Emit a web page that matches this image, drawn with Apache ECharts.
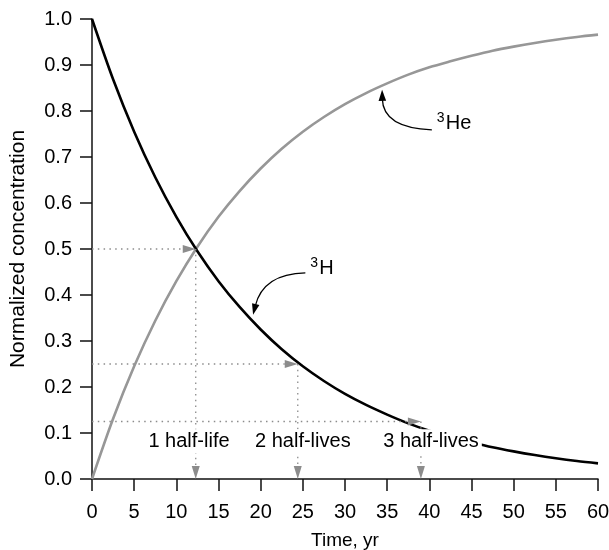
<!DOCTYPE html>
<html>
<head>
<meta charset="utf-8">
<script src="https://cdn.jsdelivr.net/npm/echarts@6/dist/echarts.min.js"></script>
<style>
html, body { margin: 0; padding: 0; background: #fff; }
#chart { width: 609px; height: 550px; }
</style>
</head>
<body>
<div id="chart"></div>
<script>
// Time axis samples (years)
const years = [0, 2.5, 5, 7.5, 10, 12.5, 15, 17.5, 20, 22.5, 25, 27.5, 30,
               32.5, 35, 37.5, 40, 42.5, 45, 47.5, 50, 52.5, 55, 57.5, 60];

// Normalized tritium (3H) remaining
const tritium = [1.000, 0.869, 0.755, 0.656, 0.570, 0.495, 0.430, 0.374, 0.325,
                 0.282, 0.245, 0.213, 0.185, 0.161, 0.140, 0.121, 0.105, 0.092,
                 0.080, 0.069, 0.060, 0.052, 0.045, 0.039, 0.034];

// Normalized tritiogenic helium (3He) grown in
const helium3 = [0.000, 0.131, 0.245, 0.344, 0.430, 0.505, 0.570, 0.626, 0.675,
                 0.718, 0.755, 0.787, 0.815, 0.839, 0.860, 0.879, 0.895, 0.908,
                 0.920, 0.931, 0.940, 0.948, 0.955, 0.961, 0.966];

// Half-life guide markers
const halfLifeYears = [12.3, 24.4, 39.0];
const halfLifeLevels = [0.5, 0.25, 0.125];
const halfLifeLabels = ['1 half-life', '2 half-lives', '3 half-lives'];
const halfLifeLabelYears = [11.5, 25.0, 40.2];
const halfLifeLabelLevel = 0.082;

// Curve tags: label text, arrow start, bend point and tip (data coordinates)
const tagNames = ['H', 'He'];
const tagStarts = [[25.3, 0.448], [40.3, 0.759]];
const tagBends = [[20.3, 0.446], [34.5, 0.763]];
const tagTips = [[19.1, 0.357], [34.4, 0.846]];

const FONT = '"Liberation Sans", Arial, Helvetica, sans-serif';
const GUIDE = '#8c8c8c';

const chart = echarts.init(document.getElementById('chart'), null, { renderer: 'canvas' });

function pairs(xs, ys) { return xs.map((x, i) => [x, ys[i]]); }

const axisCommon = {
  type: 'value',
  axisLine: { show: true, onZero: false, lineStyle: { color: '#111', width: 1.5 } },
  axisTick: { show: true, inside: false, length: 12, lineStyle: { color: '#111', width: 1.5 } },
  splitLine: { show: false },
};

function renderGuide(params, api) {
  const i = api.value(2);
  const t = api.value(0), lv = api.value(1);
  const p0 = api.coord([0, lv]);
  const p = api.coord([t, lv]);
  const pb = api.coord([t, 0]);
  const lab = api.coord([halfLifeLabelYears[i], halfLifeLabelLevel]);
  const L = 13, W = 4;
  const dotted = { stroke: GUIDE, lineWidth: 1.3, lineDash: [1.5, 4.3], fill: null };
  return {
    type: 'group',
    children: [
      { type: 'line', shape: { x1: p0[0], y1: p0[1], x2: p[0] - L, y2: p[1] }, style: dotted },
      { type: 'polygon', shape: { points: [[p[0] - L, p[1] - W], [p[0], p[1]], [p[0] - L, p[1] + W]] },
        style: { fill: GUIDE } },
      { type: 'line', shape: { x1: p[0], y1: p[1], x2: pb[0], y2: pb[1] - L }, style: dotted },
      { type: 'polygon', shape: { points: [[pb[0] - W, pb[1] - L], [pb[0], pb[1]], [pb[0] + W, pb[1] - L]] },
        style: { fill: GUIDE } },
      { type: 'text', z2: 10,
        style: { text: halfLifeLabels[i], x: lab[0], y: lab[1], align: 'center', verticalAlign: 'middle',
                 fontSize: 20, fontFamily: FONT, fill: '#000', backgroundColor: '#fff', padding: [2, 3] } }
    ]
  };
}

function renderTag(params, api) {
  const i = api.value(0);
  const s = api.coord(tagStarts[i]);
  const c = api.coord(tagBends[i]);
  const t = api.coord(tagTips[i]);
  const ang = Math.atan2(t[1] - c[1], t[0] - c[0]);
  const L = 11, W = 3.8;
  const bx = t[0] - L * Math.cos(ang), by = t[1] - L * Math.sin(ang);
  const nx = -Math.sin(ang) * W, ny = Math.cos(ang) * W;
  const supDy = i === 0 ? -10 : -12;
  const mainDy = i === 0 ? -4 : -6;
  return {
    type: 'group',
    children: [
      { type: 'bezierCurve',
        shape: { x1: s[0], y1: s[1], cpx1: c[0], cpy1: c[1], x2: bx + 2 * Math.cos(ang), y2: by + 2 * Math.sin(ang) },
        style: { stroke: '#000', lineWidth: 1.3, fill: null } },
      { type: 'polygon', shape: { points: [[bx + nx, by + ny], [t[0], t[1]], [bx - nx, by - ny]] },
        style: { fill: '#000' } },
      { type: 'text', style: { text: '3', x: s[0] + 5, y: s[1] + supDy, align: 'left', verticalAlign: 'middle',
                               fontSize: 14, fontFamily: FONT, fill: '#000' } },
      { type: 'text', style: { text: tagNames[i], x: s[0] + 14, y: s[1] + mainDy, align: 'left', verticalAlign: 'middle',
                               fontSize: 20, fontFamily: FONT, fill: '#000' } }
    ]
  };
}

chart.setOption({
  animation: false,
  backgroundColor: '#fff',
  grid: { left: 92, right: 11, top: 19, bottom: 71, containLabel: false, outerBoundsMode: 'none' },
  xAxis: Object.assign({}, axisCommon, {
    min: 0, max: 60, interval: 5,
    name: 'Time, yr', nameLocation: 'middle', nameGap: 52,
    nameTextStyle: { color: '#000', fontSize: 19, fontFamily: FONT },
    axisLabel: { color: '#000', fontSize: 20, fontFamily: FONT, margin: 23 }
  }),
  yAxis: Object.assign({}, axisCommon, {
    min: 0, max: 1, interval: 0.1,
    name: 'Normalized concentration', nameLocation: 'middle', nameGap: 63,
    nameTextStyle: { color: '#000', fontSize: 21, fontFamily: FONT },
    axisLabel: { color: '#000', fontSize: 20, fontFamily: FONT, margin: 20,
                 formatter: v => v.toFixed(1) }
  }),
  series: [
    { name: '3He', type: 'line', data: pairs(years, helium3), smooth: 0.3, showSymbol: false,
      lineStyle: { color: '#979797', width: 2.6 }, z: 2 },
    { name: '3H', type: 'line', data: pairs(years, tritium), smooth: 0.3, showSymbol: false,
      lineStyle: { color: '#000', width: 2.6 }, z: 3 },
    { name: 'half-lives', type: 'custom', renderItem: renderGuide, z: 5, silent: true,
      data: halfLifeYears.map((t, i) => [t, halfLifeLevels[i], i]) },
    { name: 'tags', type: 'custom', renderItem: renderTag, z: 5, silent: true,
      data: tagNames.map((n, i) => [i]) }
  ]
});
</script>
</body>
</html>
